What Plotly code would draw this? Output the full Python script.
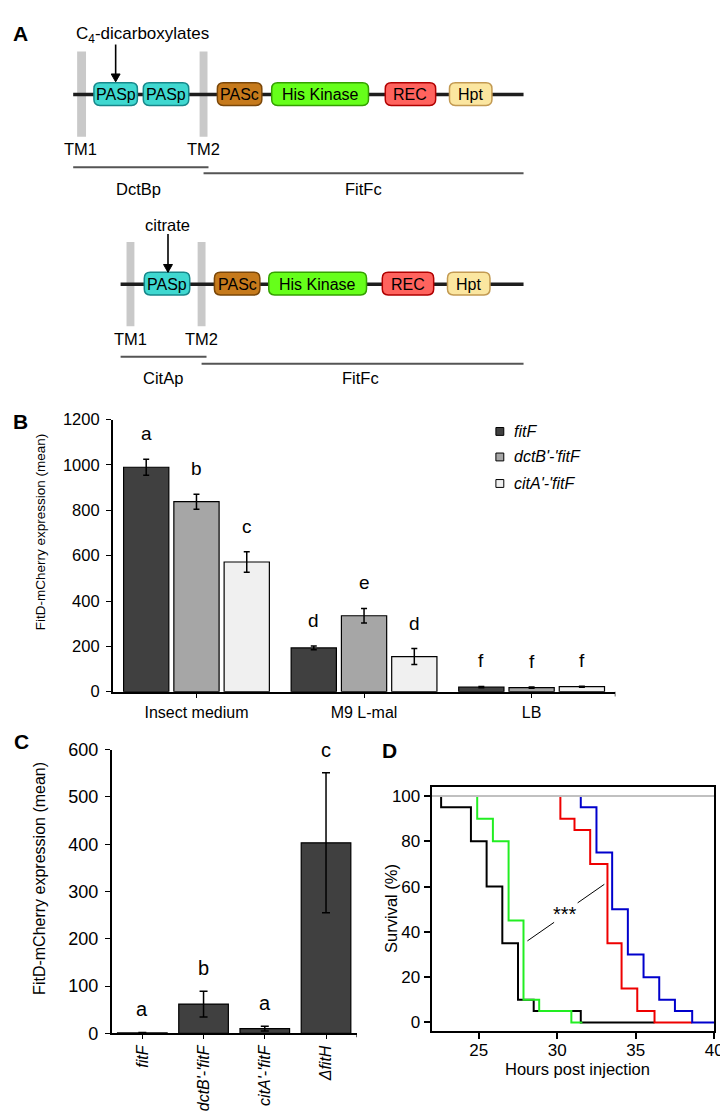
import plotly.graph_objects as go

W, H = 728, 1114
FONT = "Arial, Liberation Sans, sans-serif"

# ---------------- data ----------------
# Panel B
media = ["Insect medium", "M9 L-mal", "LB"]
strains_b = ["fitF", "dctB'-'fitF", "citA'-'fitF"]
fitF_mean = [990, 193, 20]
fitF_err = [35, 8, 3]
dctB_mean = [838, 335, 18]
dctB_err = [33, 32, 3]
citA_mean = [572, 155, 22]
citA_err = [45, 35, 2]
fitF_letters = ["a", "d", "f"]
dctB_letters = ["b", "e", "f"]
citA_letters = ["c", "d", "f"]
b_ticks = [0, 200, 400, 600, 800, 1000, 1200]

# Panel C
strains_c = ["fitF", "dctB'-'fitF", "citA'-'fitF", "ΔfitH"]
c_mean = [1, 62, 10, 403]
c_err = [1, 27, 5, 148]
c_letters = ["a", "b", "a", "c"]
c_ticks = [0, 100, 200, 300, 400, 500, 600]

# Panel D (Kaplan-Meier step curves)
black_t = [22, 22.6, 24.5, 25.5, 26.5, 27.5, 28.5, 31.5, 36.2]
black_s = [100, 95, 80, 60, 35, 10, 5, 0, 0]
green_t = [22, 24.9, 25.9, 26.9, 27.85, 28.85, 30.9, 31.6]
green_s = [100, 90, 80, 45, 10, 5, 0, 0]
red_t = [22, 30.2, 31.1, 32.1, 33.2, 34.1, 35.1, 36.2, 38.6]
red_s = [100, 90, 85, 70, 35, 15, 5, 0, 0]
blue_t = [22, 31.5, 32.5, 33.5, 34.5, 35.5, 36.5, 37.5, 38.6, 40]
blue_s = [100, 95, 75, 50, 30, 20, 10, 5, 0, 0]
control_t = [22, 40]
control_s = [100, 100]
d_xticks = [25, 30, 35, 40]
d_yticks = [0, 20, 40, 60, 80, 100]

# Panel A domain architecture
arch1_domains = ["PASp", "PASp", "PASc", "His Kinase", "REC", "Hpt"]
arch2_domains = ["PASp", "PASc", "His Kinase", "REC", "Hpt"]

# ---------------- helpers ----------------
def fx(p):
    return p / W


def fy(p):
    return 1 - p / H


shapes = []
annotations = []


def text(x, y, s, size=16.5, bold=False, italic=False, angle=0, xanchor="center",
         yanchor="middle", color="black"):
    if bold:
        s = "<b>%s</b>" % s
    if italic:
        s = "<i>%s</i>" % s
    annotations.append(dict(x=fx(x), y=fy(y), xref="paper", yref="paper", text=s,
                            showarrow=False, textangle=angle, xanchor=xanchor,
                            yanchor=yanchor, font=dict(family=FONT, size=size, color=color)))


def line(x0, y0, x1, y1, color="black", width=2):
    shapes.append(dict(type="line", xref="paper", yref="paper", x0=fx(x0), y0=fy(y0),
                       x1=fx(x1), y1=fy(y1), line=dict(color=color, width=width)))


def rect(x0, y0, x1, y1, fill, lc=None, lw=0):
    shapes.append(dict(type="rect", xref="paper", yref="paper", x0=fx(x0), y0=fy(y0),
                       x1=fx(x1), y1=fy(y1), fillcolor=fill,
                       line=dict(color=lc or fill, width=lw)))


def path(cmds, fill, lc, lw=1.5):
    parts = []
    for p in cmds:
        cmd = p[0]
        coords = p[1:]
        cs = []
        for i in range(0, len(coords), 2):
            cs.append("%.5f,%.5f" % (fx(coords[i]), fy(coords[i + 1])))
        parts.append(cmd + " ".join(cs))
    shapes.append(dict(type="path", xref="paper", yref="paper",
                       path=" ".join(parts) + " Z",
                       fillcolor=fill, line=dict(color=lc, width=lw)))


def rrect(x0, y0, x1, y1, r, fill, lc, lw=1.5):
    pts = [("M", x0 + r, y0), ("L", x1 - r, y0), ("Q", x1, y0, x1, y0 + r),
           ("L", x1, y1 - r), ("Q", x1, y1, x1 - r, y1), ("L", x0 + r, y1),
           ("Q", x0, y1, x0, y1 - r), ("L", x0, y0 + r), ("Q", x0, y0, x0 + r, y0)]
    path(pts, fill, lc, lw)


def arrow(x, y_tip, y_tail):
    line(x, y_tail, x, y_tip - 6, color="black", width=1.6)
    path([("M", x - 4.5, y_tip - 8), ("L", x + 4.5, y_tip - 8), ("L", x, y_tip)],
         "black", "black", 1)


DOMAIN_STYLE = {
    "PASp": ("#3FD8D0", "#17878A"),
    "PASc": ("#C67A1C", "#7A4709"),
    "His Kinase": ("#66FF1A", "#34A000"),
    "REC": ("#FF635E", "#B00000"),
    "Hpt": ("#FBE6A0", "#C39A52"),
}

# ---------------- Panel A ----------------
text(13, 16, "A", size=21, bold=True)

# architecture 1 (DctB periplasmic + FitF cytoplasmic)
rect(70, 34, 79, 121, "#C9C9C9")
rect(194, 34, 202, 121, "#C9C9C9")
line(66, 78, 522, 78, color="#1E1E1E", width=3.5)
box1 = [(87, 131), (137, 183), (212, 257), (267, 365), (382, 433), (447, 490)]
for name, (a, b) in zip(arch1_domains, box1):
    f, l = DOMAIN_STYLE[name]
    rrect(a, 66, b, 89, 6, f, l)
    text((a + b) / 2, 78, name, size=16)
arrow(109, 65, 27)
text(136, 17, "C<sub>4</sub>-dicarboxylates", size=17)
text(73, 133, "TM1", size=16.5)
text(198, 133, "TM2", size=16.5)
line(66, 152, 203, 152, color="#555555", width=2)
line(198, 158, 522, 158, color="#555555", width=2)
text(132, 174, "DctBp", size=16.5)
text(360, 174, "FitFc", size=16.5)

# architecture 2 (CitA periplasmic + FitF cytoplasmic)
rect(120, 228, 128, 314, "#C9C9C9")
rect(192, 228, 200, 314, "#C9C9C9")
line(114, 271, 522, 271, color="#1E1E1E", width=3.5)
box2 = [(138, 184), (209, 255), (264, 363), (379, 431), (445, 488)]
for name, (a, b) in zip(arch2_domains, box2):
    f, l = DOMAIN_STYLE[name]
    rrect(a, 259, b, 282, 6, f, l)
    text((a + b) / 2, 271, name, size=16)
arrow(162, 259, 220)
text(162, 211, "citrate", size=16.5)
text(124, 327, "TM1", size=16.5)
text(196, 327, "TM2", size=16.5)
line(114, 345, 201, 345, color="#555555", width=2)
line(196, 352, 522, 352, color="#555555", width=2)
text(157, 367, "CitAp", size=16.5)
text(357, 367, "FitFc", size=16.5)

# ---------------- Panel B ----------------
text(13, 411, "B", size=21, bold=True)
b_colors = ["#404040", "#A6A6A6", "#F0F0F0"]
b_means = [fitF_mean, dctB_mean, citA_mean]
b_errs = [fitF_err, dctB_err, citA_err]
b_letters = [fitF_letters, dctB_letters, citA_letters]
BARGAP = 0.1

fig = go.Figure()
group_pos = list(range(len(media)))
for i, (nm, m, e, col) in enumerate(zip(strains_b, b_means, b_errs, b_colors)):
    fig.add_trace(go.Bar(
        x=group_pos, y=m, name=nm, xaxis="x", yaxis="y",
        marker=dict(color=col, line=dict(color="black", width=1.2)),
        error_y=dict(type="data", array=e, visible=True, color="black",
                     thickness=1.5, width=3),
        showlegend=False))
slot = (1 - BARGAP) / len(strains_b)
for i in range(len(strains_b)):
    for k in group_pos:
        annotations.append(dict(
            x=k + (i - 1) * slot, y=b_means[i][k] + b_errs[i][k], xref="x", yref="y",
            text=b_letters[i][k], showarrow=False, yanchor="bottom", yshift=13,
            font=dict(family=FONT, size=19, color="black")))
# end tick of the category axis
shapes.append(dict(type="line", xref="x", yref="paper", x0=len(media) - 0.5,
                   x1=len(media) - 0.5, y0=fy(686), y1=fy(691),
                   line=dict(color="black", width=1.2)))

# custom legend
leg_y = [421, 447, 474]
for nm, col, yy in zip(strains_b, b_colors, leg_y):
    rect(494, yy - 4, 502, yy + 4, col, "black", 1)
    text(510, yy, nm, size=16, italic=True, xanchor="left")

text(33, 523, "FitD-mCherry expression (mean)", size=13.5, angle=-90)

# ---------------- Panel C ----------------
text(14, 737, "C", size=21, bold=True)
c_pos = list(range(len(strains_c)))
fig.add_trace(go.Bar(
    x=c_pos, y=c_mean, xaxis="x2", yaxis="y2",
    marker=dict(color="#404040", line=dict(color="black", width=1.2)),
    error_y=dict(type="data", array=c_err, visible=True, color="black",
                 thickness=1.5, width=4),
    showlegend=False))
for p, m, e, lt in zip(c_pos, c_mean, c_err, c_letters):
    annotations.append(dict(x=p, y=m + e, xref="x2", yref="y2", text=lt,
                            showarrow=False, yanchor="bottom", yshift=10,
                            font=dict(family=FONT, size=20, color="black")))
shapes.append(dict(type="line", xref="x2", yref="paper", x0=len(strains_c) - 0.5,
                   x1=len(strains_c) - 0.5, y0=fy(1034), y1=fy(1038),
                   line=dict(color="black", width=1.2)))
text(32, 876, "FitD-mCherry expression (mean)", size=16, angle=-90)

# ---------------- Panel D ----------------
text(386, 746, "D", size=21, bold=True)
curves = [(black_t, black_s, "#000000"), (green_t, green_s, "#22EE22"),
          (red_t, red_s, "#EE0000"), (blue_t, blue_s, "#0000CC"),
          (control_t, control_s, "#C0C0C0")]
for t, s, col in curves:
    fig.add_trace(go.Scatter(x=t, y=s, mode="lines", line=dict(color=col, width=2, shape="hv"),
                             xaxis="x3", yaxis="y3", showlegend=False))
annotations.append(dict(x=30.5, y=48, xref="x3", yref="y3", text="***", showarrow=False,
                        font=dict(family=FONT, size=20, color="black")))
shapes.append(dict(type="line", xref="x3", yref="y3", x0=28.1, y0=36, x1=29.8, y1=44.2,
                   line=dict(color="black", width=1)))
shapes.append(dict(type="line", xref="x3", yref="y3", x0=31.3, y0=52.8, x1=33.0, y1=61,
                   line=dict(color="black", width=1)))
text(388, 907, "Survival (%)", size=16.5, angle=-90)
text(577, 1070, "Hours post injection", size=16.5)

# ---------------- layout ----------------
axis_common = dict(showgrid=False, zeroline=False, showline=True, linecolor="black",
                   ticks="outside", tickcolor="black")

fig.update_layout(
    width=W, height=H, margin=dict(l=0, r=0, t=0, b=0),
    paper_bgcolor="white", plot_bgcolor="rgba(0,0,0,0)",
    barmode="group", bargap=BARGAP, bargroupgap=0.1,
    showlegend=False,
    xaxis=dict(**axis_common, domain=[fx(106), fx(615)], range=[-0.5, 2.5],
               tickvals=group_pos, ticktext=media, anchor="y",
               linewidth=1.5, ticklen=5, tickwidth=1.2,
               tickfont=dict(family=FONT, size=16, color="black")),
    yaxis=dict(**axis_common, domain=[fy(686), fy(409)], range=[0, 1200],
               tickvals=b_ticks, anchor="x", linewidth=1.5, ticklen=5, tickwidth=1.2,
               ticklabelstandoff=3,
               tickfont=dict(family=FONT, size=16.5, color="black")),
    xaxis2=dict(**axis_common, domain=[fx(105), fx(353)], range=[-0.5, 3.5],
                tickvals=c_pos,
                ticktext=["<i>%s</i>" % s for s in strains_c], tickangle=-90,
                anchor="y2", linewidth=1.5, ticklen=4, tickwidth=1.2,
                tickfont=dict(family=FONT, size=16, color="black")),
    yaxis2=dict(**axis_common, domain=[fy(1034), fy(745)], range=[0, 600],
                tickvals=c_ticks, anchor="x2", linewidth=1.5, ticklen=5, tickwidth=1.2,
                ticklabelstandoff=3,
                tickfont=dict(family=FONT, size=18, color="black")),
    xaxis3=dict(**axis_common, domain=[fx(429), fx(715)], range=[22, 40],
                tickvals=d_xticks, anchor="y3", linewidth=2, mirror=True,
                ticklen=6, tickwidth=1.5, ticklabelstandoff=-4,
                tickfont=dict(family=FONT, size=17, color="black")),
    yaxis3=dict(**axis_common, domain=[fy(1032), fy(783)], range=[-4, 104],
                tickvals=d_yticks, anchor="x3", linewidth=2, mirror=True,
                ticklen=6, tickwidth=1.5,
                tickfont=dict(family=FONT, size=17, color="black")),
    shapes=shapes, annotations=annotations,
    font=dict(family=FONT, color="black"),
)

fig.write_html("out.html")
